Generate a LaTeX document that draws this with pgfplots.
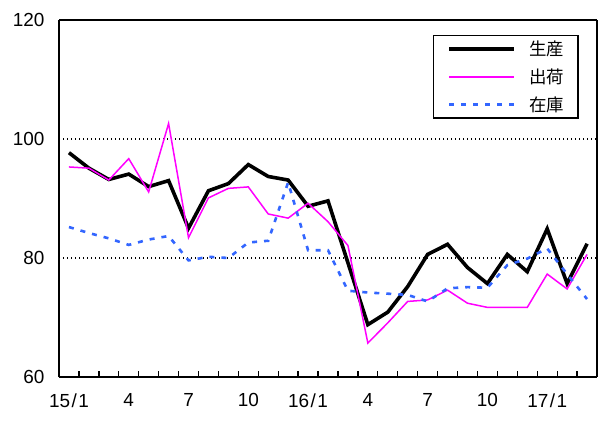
\documentclass[border=0pt]{standalone}
\usepackage{pgfplots}
\pgfplotsset{compat=1.18}
\usepackage{fontspec}
\setmainfont{Liberation Sans}
\newfontfamily\jp{Noto Sans CJK JP}
\definecolor{invblue}{RGB}{51,102,255}
\definecolor{shipmag}{RGB}{255,0,255}
\newcommand{\ym}[2]{#1\kern1.5bp/\kern1.5bp#2}
\begin{document}
\begin{tikzpicture}
\begin{axis}[
    scale only axis,
    width=538bp, height=357bp,
    xmin=0.5, xmax=27.5,
    ymin=60, ymax=120,
    xtick={1,4,7,10,13,16,19,22,25},
    xticklabels={\ym{15}{1},4,7,10,\ym{16}{1},4,7,10,\ym{17}{1}},
    minor xtick={1.5,2.5,...,26.5},
    ytick={60,80,100,120},
    major tick length=0pt,
    minor tick length=5.5bp,
    minor tick style={line width=1.3bp, black},
    tick pos=left,
    ymajorgrids,
    major grid style={black, line width=1.3bp, dash pattern=on 1.4bp off 2.6bp},
    separate axis lines,
    x axis line style={line width=2.4bp},
    y axis line style={line width=2.4bp},
    /pgf/number format/assume math mode=true,
    ticklabel style={font=\fontsize{19}{22}\selectfont},
    yticklabel style={xshift=-11bp},
    xticklabel style={yshift=-13bp},
    legend image code/.code={\draw[#1] (0bp,0bp) -- (65bp,0bp);},
    legend cell align=left,
    legend style={
        at={(rel axis cs:0.966,0.958)}, anchor=north east,
        draw=black, line width=1.3bp, fill=white,
        inner xsep=14bp, inner ysep=5.5bp,
        row sep=11.5bp, column sep=13bp,
        font=\jp\fontsize{17.5}{20}\selectfont,
        nodes={inner sep=0bp},
    },
]
\addplot[black, line width=3.6bp] coordinates {
    (1,97.7)(2,95.1)(3,93.2)(4,94.1)(5,92.0)(6,93.0)(7,85.0)(8,91.3)(9,92.5)
    (10,95.7)(11,93.7)(12,93.1)(13,88.7)(14,89.6)(15,79.2)(16,68.8)(17,70.9)
    (18,75.2)(19,80.6)(20,82.3)(21,78.4)(22,75.7)(23,80.6)(24,77.7)(25,84.9)
    (26,75.7)(27,82.4)
};
\addlegendentry{生産}
\addplot[shipmag, line width=1.5bp] coordinates {
    (1,95.3)(2,95.1)(3,93.1)(4,96.7)(5,91.1)(6,102.6)(7,83.4)(8,90.1)(9,91.7)
    (10,91.95)(11,87.4)(12,86.7)(13,89.2)(14,86.1)(15,82.1)(16,65.7)(17,69.1)
    (18,72.7)(19,72.95)(20,74.6)(21,72.4)(22,71.7)(23,71.7)(24,71.7)(25,77.3)
    (26,74.8)(27,80.6)
};
\addlegendentry{出荷}
\addplot[invblue, line width=2.6bp, dash pattern=on 5bp off 7bp] coordinates {
    (1,85.2)(2,84.2)(3,83.3)(4,82.2)(5,83.1)(6,83.7)(7,79.6)(8,80.2)(9,80.0)
    (10,82.6)(11,82.9)(12,92.7)(13,81.3)(14,81.3)(15,74.5)(16,74.2)(17,74.0)
    (18,73.8)(19,72.7)(20,74.9)(21,75.1)(22,75.0)(23,78.8)(24,79.9)(25,81.6)
    (26,77.3)(27,73.1)
};
\addlegendentry{在庫}
\end{axis}
\pgfresetboundingbox
\path ([xshift=-59bp,yshift=-44bp]current axis.south west)
    rectangle ([xshift=5bp,yshift=20bp]current axis.north east);
\end{tikzpicture}
\end{document}
